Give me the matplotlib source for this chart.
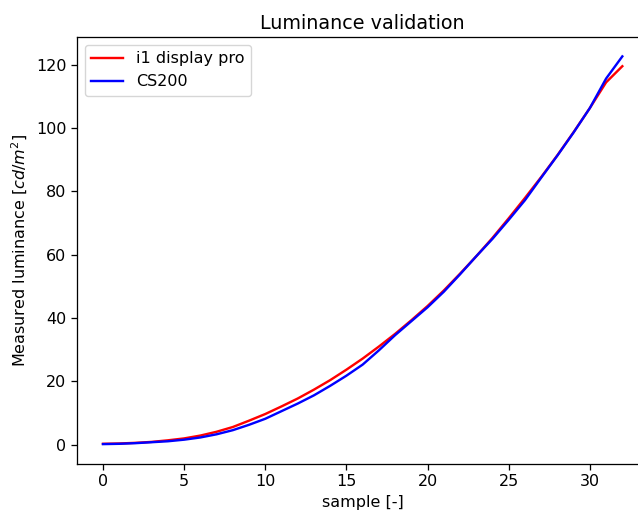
import matplotlib
matplotlib.use("Agg")
import matplotlib.pyplot as plt

samples = list(range(33))
i1_display_pro = [0.3, 0.4, 0.6, 0.9, 1.4, 2.0, 2.9, 4.1, 5.6, 7.6,
                  9.7, 12.1, 14.6, 17.4, 20.4, 23.7, 27.2, 31.0, 35.0, 39.3,
                  43.8, 48.7, 54.0, 59.5, 65.3, 71.5, 77.9, 84.5, 91.4, 98.7,
                  106.3, 114.4, 119.5]
cs200 = [0.2, 0.3, 0.5, 0.8, 1.1, 1.6, 2.3, 3.3, 4.6, 6.3,
         8.2, 10.6, 13.0, 15.6, 18.6, 21.8, 25.3, 29.8, 34.6, 39.0,
         43.4, 48.3, 53.8, 59.5, 65.0, 71.0, 77.2, 84.3, 91.3, 98.6,
         106.3, 115.6, 122.6]

s = 1.15
plt.rcParams.update({
    "font.size": 10 * s,
    "axes.titlesize": 12 * s,
    "lines.linewidth": 1.5 * s,
    "axes.linewidth": 0.8 * s,
    "xtick.major.size": 3.5 * s,
    "ytick.major.size": 3.5 * s,
    "xtick.major.width": 0.8 * s,
    "ytick.major.width": 0.8 * s,
})

fig = plt.figure(figsize=(6.38, 5.13), dpi=100)
ax = fig.add_axes([77/638, (513-463.5)/513, (648.3-77)/638, (463.5-37)/513])
ax.plot(samples, i1_display_pro, color="red", label="i1 display pro")
ax.plot(samples, cs200, color="blue", label="CS200")
ax.set_title("Luminance validation")
ax.set_xlabel("sample [-]")
ax.set_ylabel("Measured luminance $[cd/m^2]$")
ax.legend(loc="upper left")
fig.savefig("out.png", dpi=100)
